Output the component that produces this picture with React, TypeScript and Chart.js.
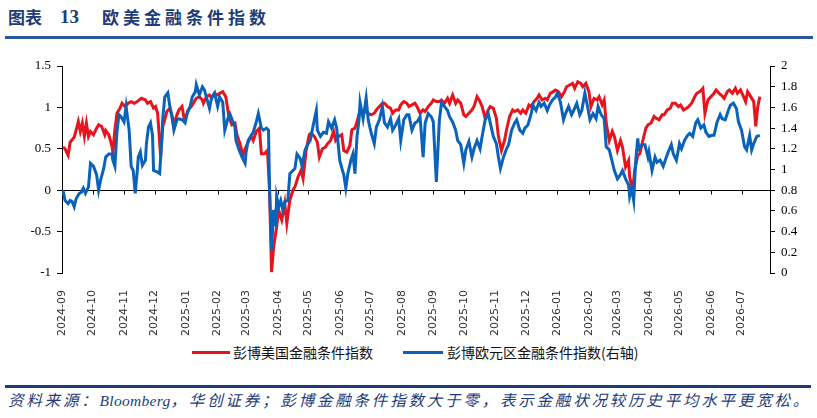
import React, { useEffect, useRef } from "react";
import { Chart, registerables } from "chart.js";

Chart.register(...registerables);

// Month tick labels on the x axis
const monthLabels = [
  "2024-09", "2024-10", "2024-11", "2024-12", "2025-01", "2025-02", "2025-03",
  "2025-04", "2025-05", "2025-06", "2025-07", "2025-08", "2025-09", "2025-10",
  "2025-11", "2025-12", "2026-01", "2026-02", "2026-03", "2026-04", "2026-05",
  "2026-06", "2026-07",
];

// Last day shown (days since 2024-09-01)
const lastDay = 696;

// 彭博美国金融条件指数 (left axis): [days since 2024-09-01, value]
const usFci: [number, number][] = [
  [1, 0.52], [3, 0.5], [6, 0.42], [8, 0.58], [12, 0.64], [14, 0.73], [16, 0.83], [18, 0.71],
  [20, 0.81], [22, 0.65], [24, 0.81], [26, 0.65], [28, 0.71], [31, 0.67], [34, 0.75], [36, 0.79],
  [39, 0.77], [42, 0.67], [43, 0.72], [46, 0.67], [49, 0.54], [50, 0.46], [52, 0.73], [54, 0.93],
  [57, 0.99], [59, 1.05], [62, 1.01], [65, 1.05], [68, 1.07], [71, 1.05], [74, 1.07], [78, 1.11],
  [82, 1.09], [84, 1.05], [87, 1.07], [90, 0.99], [92, 1.01], [94, 0.93], [97, 0.4], [99, 0.77],
  [101, 0.85], [103, 0.95], [106, 0.99], [108, 0.91], [110, 0.79], [113, 0.91], [115, 0.97], [118, 1.01],
  [120, 0.87], [122, 0.89], [124, 0.97], [127, 1.01], [130, 1.07], [132, 1.11], [135, 1.13], [138, 1.09],
  [139, 1.05], [142, 1.13], [145, 1.15], [147, 1.11], [150, 1.17], [153, 1.15], [155, 1.17], [158, 1.19],
  [161, 1.13], [163, 0.97], [164, 0.89], [167, 0.79], [170, 0.81], [172, 0.67], [175, 0.56], [178, 0.42],
  [180, 0.5], [183, 0.58], [186, 0.65], [188, 0.6], [191, 0.71], [194, 0.75], [196, 0.44], [199, 0.44],
  [202, 0.48], [204, 0.0], [206, -0.99], [208, -0.69], [211, -0.44], [213, -0.24], [216, -0.36], [219, -0.16],
  [221, -0.4], [224, -0.12], [227, 0.0], [229, 0.04], [232, 0.16], [235, 0.24], [237, 0.14], [240, 0.48],
  [243, 0.67], [245, 0.69], [248, 0.65], [251, 0.58], [253, 0.4], [256, 0.5], [259, 0.52], [261, 0.56],
  [264, 0.6], [267, 0.71], [269, 0.6], [272, 0.65], [275, 0.67], [277, 0.48], [280, 0.46], [283, 0.54],
  [285, 0.73], [288, 0.75], [291, 0.87], [293, 0.97], [296, 0.93], [299, 0.95], [301, 0.93], [304, 0.91],
  [307, 0.93], [309, 0.97], [312, 1.01], [315, 1.05], [317, 1.05], [320, 1.01], [323, 0.99], [325, 0.93],
  [328, 0.97], [331, 0.97], [333, 1.03], [336, 1.07], [339, 1.05], [341, 1.01], [344, 1.03], [347, 1.05],
  [349, 1.01], [352, 0.93], [355, 0.97], [357, 0.95], [360, 1.01], [363, 1.05], [365, 1.09], [368, 1.07],
  [371, 1.07], [373, 1.09], [376, 1.05], [379, 1.11], [381, 1.05], [384, 1.15], [387, 1.05], [389, 1.09],
  [392, 1.05], [395, 0.91], [397, 0.89], [400, 0.93], [403, 0.97], [405, 1.01], [408, 1.13], [411, 1.07],
  [413, 1.01], [416, 0.87], [419, 0.97], [421, 1.01], [424, 0.99], [427, 0.87], [429, 0.65], [432, 0.48],
  [435, 0.6], [437, 0.73], [440, 0.89], [443, 0.97], [445, 0.95], [448, 0.97], [451, 0.93], [453, 0.97],
  [456, 0.93], [459, 1.03], [461, 1.01], [464, 1.07], [467, 1.11], [469, 1.15], [472, 1.09], [475, 1.11],
  [477, 1.09], [480, 1.17], [483, 1.19], [485, 1.21], [488, 1.19], [491, 1.13], [494, 1.19], [496, 1.25],
  [499, 1.27], [502, 1.29], [504, 1.23], [507, 1.31], [510, 1.29], [512, 1.25], [515, 1.29], [518, 1.19],
  [520, 1.01], [523, 1.11], [526, 1.09], [528, 1.13], [531, 1.03], [533, 1.09], [535, 0.81], [538, 0.6],
  [541, 0.71], [543, 0.65], [546, 0.48], [549, 0.6], [551, 0.52], [554, 0.28], [557, 0.36], [558, 0.16],
  [561, 0.0], [563, 0.24], [566, 0.42], [568, 0.44], [571, 0.6], [574, 0.75], [576, 0.79], [579, 0.81],
  [582, 0.89], [584, 0.87], [587, 0.85], [590, 0.91], [592, 0.91], [595, 0.97], [598, 0.99], [600, 1.05],
  [603, 1.05], [606, 1.01], [608, 1.03], [611, 0.97], [614, 0.99], [616, 1.01], [619, 1.05], [622, 1.13],
  [624, 1.17], [627, 1.19], [630, 1.23], [632, 0.93], [635, 1.09], [638, 1.13], [641, 1.17], [643, 1.21],
  [646, 1.17], [648, 1.15], [651, 1.11], [654, 1.19], [656, 1.21], [659, 1.17], [662, 1.23], [664, 1.17],
  [667, 1.21], [670, 1.13], [672, 1.07], [674, 1.19], [677, 1.13], [680, 1.07], [682, 0.77], [684, 1.01],
  [686, 1.13],
];

// 彭博欧元区金融条件指数 (right axis): [days since 2024-09-01, value]
const euFci: [number, number][] = [
  [1, 0.8], [3, 0.7], [6, 0.67], [8, 0.7], [10, 0.69], [12, 0.64], [14, 0.72], [17, 0.77],
  [19, 0.78], [21, 0.82], [23, 0.77], [26, 0.83], [28, 1.06], [31, 1.03], [34, 0.95], [36, 0.8],
  [38, 0.9], [41, 1.01], [43, 1.12], [46, 1.15], [49, 1.15], [50, 1.09], [52, 1.03], [54, 1.36],
  [56, 1.53], [58, 1.51], [61, 1.46], [63, 1.61], [66, 1.38], [68, 1.03], [70, 0.99], [72, 0.77],
  [74, 0.99], [75, 1.12], [77, 1.17], [79, 1.04], [82, 1.09], [83, 1.25], [85, 1.41], [87, 1.45],
  [89, 1.33], [90, 0.99], [93, 0.98], [96, 0.96], [98, 1.28], [99, 1.49], [101, 1.7], [104, 1.74],
  [106, 1.61], [108, 1.51], [110, 1.38], [113, 1.48], [115, 1.49], [118, 1.48], [121, 1.45], [123, 1.54],
  [126, 1.61], [128, 1.7], [131, 1.75], [132, 1.82], [135, 1.72], [138, 1.8], [140, 1.77], [142, 1.7],
  [145, 1.59], [147, 1.69], [150, 1.74], [153, 1.61], [155, 1.7], [158, 1.65], [160, 1.38], [163, 1.49],
  [165, 1.54], [168, 1.46], [170, 1.41], [171, 1.28], [174, 1.19], [177, 1.12], [180, 1.06], [181, 1.17],
  [183, 1.28], [186, 1.33], [188, 1.36], [191, 1.46], [193, 1.54], [196, 1.4], [198, 1.38], [201, 1.4],
  [203, 1.38], [204, 0.83], [206, 0.22], [208, 0.61], [210, 0.45], [211, 0.74], [213, 0.64], [215, 0.7],
  [217, 0.61], [219, 0.69], [222, 0.7], [224, 0.96], [227, 0.99], [229, 1.01], [231, 1.15], [234, 1.11],
  [236, 1.03], [239, 1.19], [242, 1.25], [244, 1.28], [247, 1.43], [250, 1.57], [251, 1.38], [254, 1.32],
  [257, 1.36], [260, 1.35], [262, 1.46], [265, 1.4], [268, 1.48], [270, 1.4], [273, 1.09], [276, 0.98],
  [277, 0.95], [279, 0.82], [281, 0.96], [284, 1.09], [286, 1.15], [288, 0.96], [290, 1.32], [292, 1.48],
  [293, 1.65], [296, 1.49], [299, 1.69], [301, 1.48], [304, 1.35], [307, 1.25], [309, 1.41], [312, 1.48],
  [315, 1.61], [317, 1.45], [320, 1.41], [323, 1.49], [325, 1.38], [328, 1.43], [331, 1.49], [333, 1.28],
  [336, 1.48], [339, 1.53], [341, 1.53], [344, 1.38], [347, 1.45], [349, 1.46], [352, 1.51], [355, 1.12],
  [357, 1.45], [360, 1.54], [363, 1.51], [365, 1.46], [368, 0.88], [371, 1.48], [373, 1.64], [376, 1.61],
  [379, 1.57], [381, 1.51], [384, 1.46], [387, 1.38], [389, 1.28], [392, 1.24], [395, 1.06], [397, 1.19],
  [400, 1.27], [403, 1.12], [405, 1.2], [408, 1.28], [411, 1.2], [413, 1.32], [416, 1.48], [419, 1.54],
  [421, 1.45], [424, 1.32], [427, 1.25], [429, 1.12], [431, 1.01], [434, 1.12], [437, 1.2], [439, 1.24],
  [442, 1.38], [445, 1.45], [447, 1.48], [450, 1.38], [453, 1.35], [455, 1.4], [458, 1.43], [461, 1.53],
  [463, 1.62], [466, 1.57], [469, 1.65], [471, 1.61], [474, 1.64], [477, 1.57], [479, 1.62], [482, 1.67],
  [485, 1.7], [487, 1.74], [490, 1.65], [493, 1.48], [495, 1.54], [498, 1.61], [501, 1.53], [503, 1.57],
  [506, 1.64], [509, 1.53], [511, 1.57], [514, 1.74], [517, 1.59], [519, 1.48], [522, 1.54], [525, 1.49],
  [527, 1.61], [530, 1.53], [533, 1.49], [535, 1.22], [538, 1.19], [541, 1.07], [543, 0.99], [546, 0.91],
  [549, 0.95], [551, 0.99], [554, 0.91], [557, 0.85], [558, 0.74], [560, 0.82], [562, 0.7], [564, 1.09],
  [566, 1.3], [567, 1.2], [570, 1.24], [573, 1.24], [576, 1.12], [577, 1.17], [580, 0.99], [583, 1.12],
  [585, 1.07], [588, 1.09], [591, 1.03], [593, 1.09], [596, 1.17], [599, 1.24], [601, 1.15], [604, 1.09],
  [607, 1.25], [609, 1.2], [612, 1.28], [615, 1.33], [617, 1.35], [620, 1.32], [623, 1.45], [625, 1.48],
  [628, 1.4], [631, 1.43], [633, 1.36], [636, 1.32], [639, 1.33], [641, 1.33], [644, 1.46], [647, 1.53],
  [649, 1.49], [652, 1.48], [655, 1.57], [657, 1.62], [660, 1.64], [663, 1.59], [665, 1.46], [668, 1.38],
  [671, 1.22], [673, 1.19], [676, 1.33], [678, 1.19], [680, 1.25], [683, 1.32], [686, 1.33],
];

const usName = "彭博美国金融条件指数";
const euName = "彭博欧元区金融条件指数(右轴)";
const RED = "#e8141c";
const BLUE = "#0a62bb";
const NAVY = "#1d3c78";

function dayOf(label: string): number {
  const [y, m] = label.split("-").map(Number);
  return Math.round((Date.UTC(y, m - 1, 1) - Date.UTC(2024, 8, 1)) / 86400000);
}
const monthDays = monthLabels.map(dayOf);

const fmt = (v: number) => String(Number(Number(v).toFixed(2)));

const zeroAxisPlugin = {
  id: "zeroAxis",
  beforeDatasetsDraw(chart: any) {
    const { ctx, chartArea, scales } = chart;
    const y = Math.round(scales.y.getPixelForValue(0)) + 0.5;
    ctx.save();
    ctx.strokeStyle = "#000";
    ctx.lineWidth = 1;
    ctx.beginPath();
    ctx.moveTo(chartArea.left, y);
    ctx.lineTo(chartArea.right, y);
    monthDays.forEach((d, i) => {
      if (i === 0) return;
      const x = Math.round(scales.x.getPixelForValue(d)) + 0.5;
      ctx.moveTo(x, y);
      ctx.lineTo(x, y + 4);
    });
    ctx.stroke();
    ctx.restore();
  },
};

export default function App() {
  const canvasRef = useRef<HTMLCanvasElement | null>(null);

  useEffect(() => {
    if (!canvasRef.current) return;
    const yAxisCommon = {
      grid: { drawOnChartArea: false, drawTicks: true, tickLength: 5, color: "#000" },
      border: { display: true, color: "#000", width: 1 },
    };
    const chart = new Chart(canvasRef.current, {
      type: "line",
      data: {
        datasets: [
          {
            label: usName,
            data: usFci.map(([x, y]) => ({ x, y })),
            borderColor: RED,
            backgroundColor: RED,
            borderWidth: 3,
            pointRadius: 0,
            tension: 0,
            yAxisID: "y",
            order: 1,
          },
          {
            label: euName,
            data: euFci.map(([x, y]) => ({ x, y })),
            borderColor: BLUE,
            backgroundColor: BLUE,
            borderWidth: 3,
            pointRadius: 0,
            tension: 0,
            yAxisID: "y2",
            order: 0,
          },
        ],
      },
      options: {
        responsive: false,
        animation: false,
        layout: { padding: { top: 21, left: 0, right: 0, bottom: 0 } },
        plugins: { legend: { display: false }, tooltip: { enabled: false } },
        scales: {
          x: {
            type: "linear",
            min: 0,
            max: lastDay,
            grid: { display: false },
            border: { display: false },
            ticks: {
              autoSkip: false,
              minRotation: 90,
              maxRotation: 90,
              padding: 9,
              color: "#333",
              font: { family: "'DejaVu Sans', sans-serif", size: 11 },
              callback: (_v: any, i: number) => monthLabels[i],
            },
            afterBuildTicks: (scale: any) => {
              scale.ticks = monthDays.map((value) => ({ value }));
            },
            afterFit: (scale: any) => {
              scale.height = 67;
            },
          },
          y: {
            position: "left",
            min: -1,
            max: 1.5,
            ...yAxisCommon,
            ticks: {
              stepSize: 0.5,
              padding: 6,
              color: "#000",
              font: { family: "'Liberation Serif', serif", size: 13 },
              callback: (v: any) => fmt(v),
            },
            afterFit: (scale: any) => {
              scale.width = 62;
            },
          },
          y2: {
            position: "right",
            min: 0,
            max: 2,
            ...yAxisCommon,
            ticks: {
              stepSize: 0.2,
              padding: 6,
              color: "#000",
              font: { family: "'Liberation Serif', serif", size: 13 },
              callback: (v: any) => fmt(v),
            },
            afterFit: (scale: any) => {
              scale.width = 47;
            },
          },
        },
      } as any,
      plugins: [zeroAxisPlugin],
    });
    return () => chart.destroy();
  }, []);

  const cjk = "'Noto Sans CJK SC', 'Liberation Serif', sans-serif";

  return (
    <div
      style={{
        position: "fixed",
        left: 0,
        top: 0,
        width: 817,
        height: 418,
        background: "#fff",
        overflow: "hidden",
      }}
    >
      <div
        style={{
          position: "absolute",
          left: 8,
          top: 5,
          height: 24,
          lineHeight: "24px",
          fontSize: 17,
          fontWeight: "bold",
          color: NAVY,
          fontFamily: cjk,
          whiteSpace: "nowrap",
        }}
      >
        <span>图表</span>
        <span
          style={{
            position: "absolute",
            left: 52,
            fontFamily: "'Liberation Serif', serif",
            fontSize: 19,
          }}
        >
          13
        </span>
        <span style={{ position: "absolute", left: 94, letterSpacing: 4 }}>欧美金融条件指数</span>
      </div>
      <div
        style={{ position: "absolute", left: 5, top: 36, width: 808, height: 3, background: "#2b579a" }}
      />
      <canvas
        ref={canvasRef}
        width={817}
        height={295}
        style={{ position: "absolute", left: 0, top: 45, width: 817, height: 295, display: "block" }}
      />
      <div style={{ position: "absolute", left: 192, top: 351, width: 38, height: 3, background: RED }} />
      <div
        style={{
          position: "absolute",
          left: 233,
          top: 342,
          lineHeight: "20px",
          fontSize: 14,
          fontFamily: cjk,
          color: "#111",
          whiteSpace: "nowrap",
        }}
      >
        {usName}
      </div>
      <div style={{ position: "absolute", left: 403, top: 351, width: 40, height: 3, background: BLUE }} />
      <div
        style={{
          position: "absolute",
          left: 447,
          top: 342,
          lineHeight: "20px",
          fontSize: 14,
          fontFamily: cjk,
          color: "#111",
          whiteSpace: "nowrap",
        }}
      >
        {euName}
      </div>
      <div
        style={{ position: "absolute", left: 5, top: 385, width: 806, height: 3, background: NAVY }}
      />
      <div
        style={{
          position: "absolute",
          left: 8,
          top: 391,
          lineHeight: "20px",
          fontSize: 15.5,
          fontStyle: "italic",
          letterSpacing: 2.8,
          fontFamily: "'Liberation Serif', 'Noto Sans CJK SC', serif",
          color: NAVY,
          whiteSpace: "nowrap",
        }}
      >
        资料来源：<span style={{ letterSpacing: 0.3 }}>Bloomberg</span>，华创证券；彭博金融条件指数大于零，表示金融状况较历史平均水平更宽松。
      </div>
    </div>
  );
}
